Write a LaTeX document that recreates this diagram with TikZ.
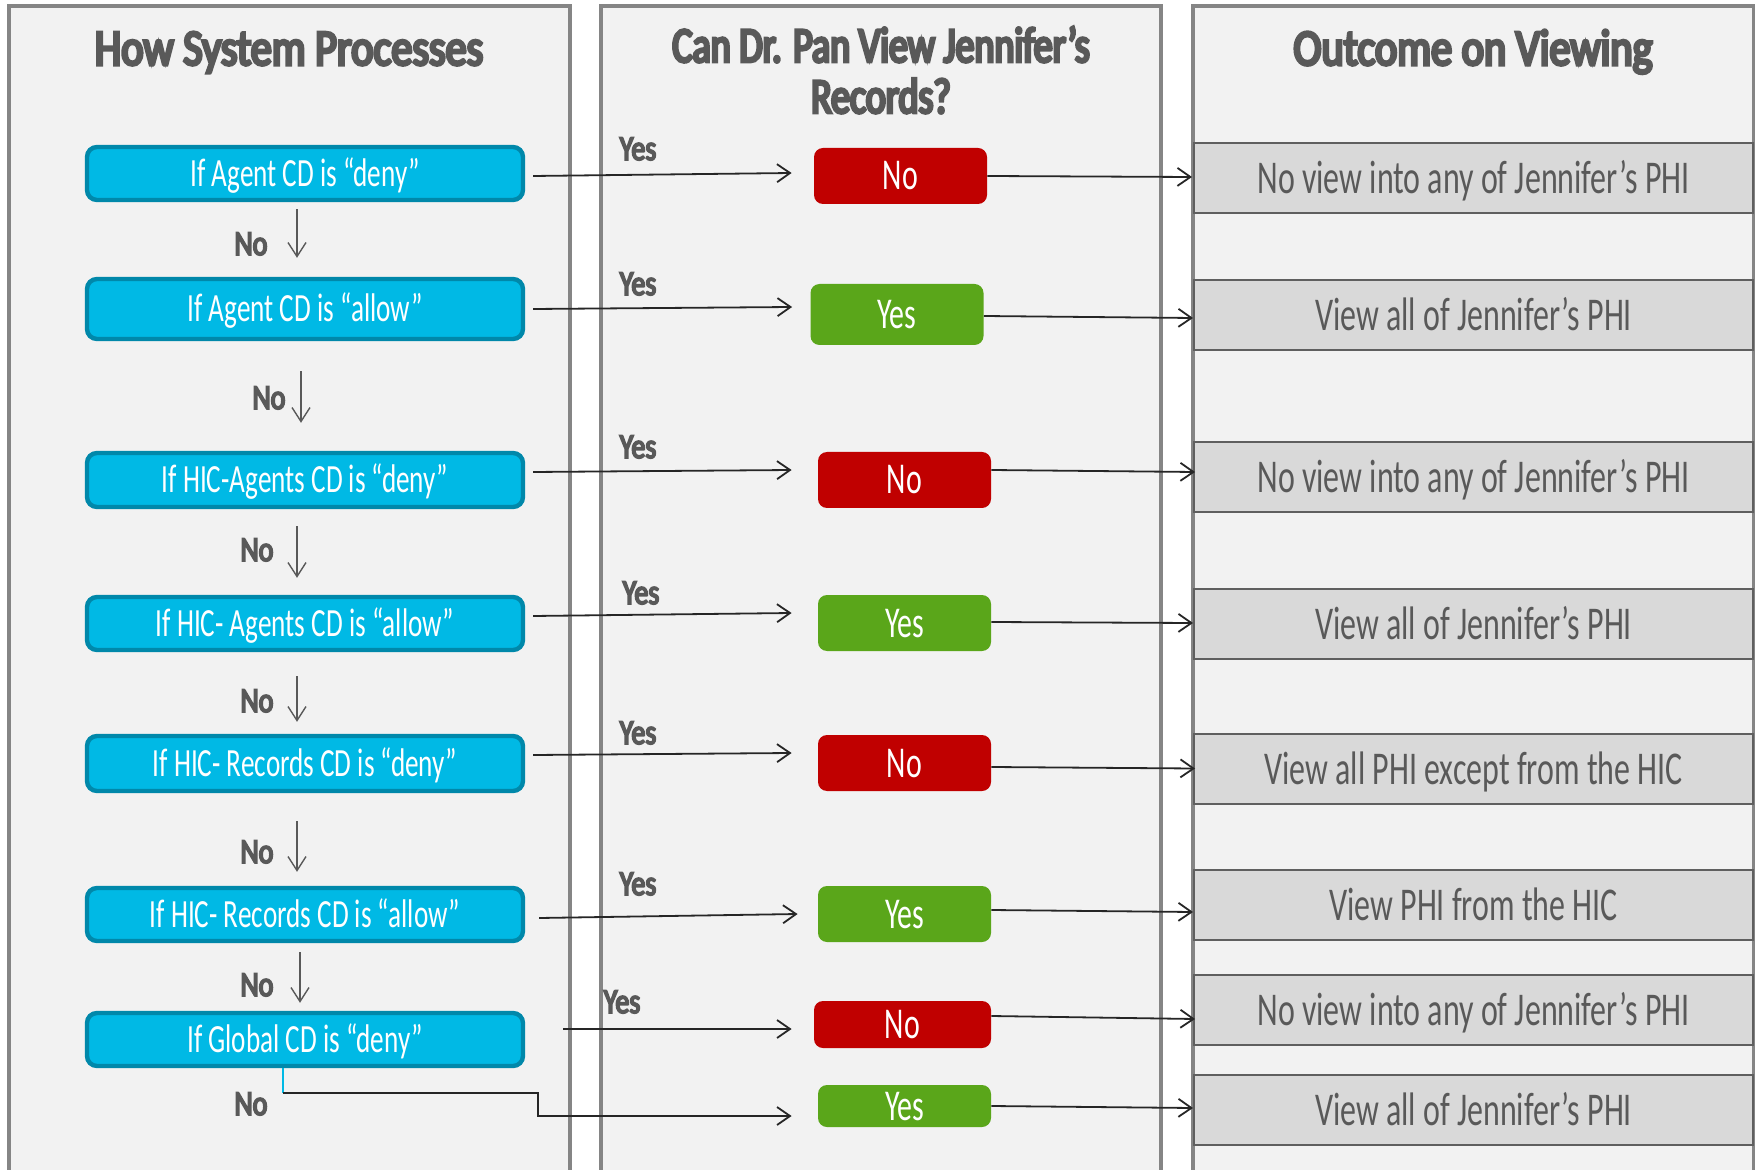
\documentclass[tikz,border=0pt]{standalone}
\usepackage{fontspec}
\setmainfont{Carlito}[FakeStretch=0.68]
\newfontfamily\headfont{Carlito}[FakeStretch=0.83, FakeBold=6]
\newfontfamily\headfontb{Carlito}[FakeStretch=0.76, FakeBold=6]
\newfontfamily\labfont{Carlito}[FakeStretch=0.8, FakeBold=5]
\usetikzlibrary{arrows.meta,calc}
\definecolor{panelfill}{HTML}{F2F2F2}
\definecolor{panelline}{HTML}{858585}
\definecolor{bluefill}{HTML}{00B9E5}
\definecolor{blueline}{HTML}{0088AA}
\definecolor{redfill}{HTML}{C00000}
\definecolor{greenfill}{HTML}{5AA61A}
\definecolor{outfill}{HTML}{D9D9D9}
\definecolor{outline}{HTML}{5F5F5F}
\definecolor{txtgray}{HTML}{595959}
\definecolor{arrowcol}{HTML}{262626}
\tikzset{
  panel/.style={draw=panelline, fill=panelfill, line width=1.6pt},
  head/.style={anchor=base, text=txtgray, font=\headfont\fontsize{25.5}{26}\selectfont, align=center, inner sep=0pt},
  cond/.style={draw=blueline, fill=bluefill, line width=2.2pt, rounded corners=5pt,
    minimum width=218pt, minimum height=#1, text=white, inner sep=0pt,
    text height=13pt, text depth=0pt, font=\fontsize{20}{20}\selectfont},
  cond/.default=26.5pt,
  answer/.style={fill=#1, rounded corners=4.5pt, minimum width=86.5pt, text=white,
    inner sep=0pt, text height=14pt, text depth=0pt, font=\fontsize{22}{22}\selectfont},
  outcome/.style={draw=outline, fill=outfill, line width=1pt, minimum width=279.5pt,
    minimum height=35pt, text=txtgray, inner sep=0pt, text height=15.5pt, text depth=0pt,
    font=\fontsize{23.5}{24}\selectfont},
  lab/.style={anchor=base, text=txtgray, font=\labfont\fontsize{17.5}{18}\selectfont, inner sep=0pt},
  yesarrow/.style={draw=arrowcol, line width=0.9pt, -{Straight Barb[length=6.5pt,width=9pt,line width=0.9pt]}},
  downarrow/.style={draw=txtgray, line width=0.7pt, -{Straight Barb[length=7pt,width=9pt,line width=0.7pt]}},
}
\begin{document}
\begin{tikzpicture}[x=0.5pt,y=-0.5pt]
\useasboundingbox (0,0) rectangle (1755,1170);
\clip (0,0) rectangle (1755,1170);
\fill[white] (0,0) rectangle (1755,1170);
% panels
\draw[panel] (9,6) rectangle (570,1220);
\draw[panel] (601,6) rectangle (1161,1220);
\draw[panel] (1193,6) rectangle (1754,1220);
% headings
\node[head] (h1) at (289,65) {How System Processes};
\node[head, font=\headfontb\fontsize{25}{26}\selectfont] (h2a) at (881,62) {Can Dr. Pan View Jennifer’s};
\node[head, font=\headfontb\fontsize{25}{26}\selectfont] (h2b) at (881,113) {Records?};
\node[head] (h3) at (1473,65) {Outcome on Viewing};
% condition boxes
\node[cond] (b1) at (305,173.5) {If Agent CD is “deny”};
\node[cond=30pt] (b2) at (305,309) {If Agent CD is “allow”};
\node[cond=27pt] (b3) at (305,480) {If HIC-Agents CD is “deny”};
\node[cond] (b4) at (305,623.5) {If HIC- Agents CD is “allow”};
\node[cond=27.5pt] (b5) at (305,763.5) {If HIC- Records CD is “deny”};
\node[cond] (b6) at (305,914.5) {If HIC- Records CD is “allow”};
\node[cond] (b7) at (305,1039.5) {If Global CD is “deny”};
% answers
\node[answer=redfill, minimum height=28pt] (m1) at (900.5,176) {No};
\node[answer=greenfill, minimum height=30.5pt] (m2) at (897,314.5) {Yes};
\node[answer=redfill, minimum height=28pt] (m3) at (904.5,480) {No};
\node[answer=greenfill, minimum height=28pt] (m4) at (904.5,623) {Yes};
\node[answer=redfill, minimum height=28pt] (m5) at (904.5,763) {No};
\node[answer=greenfill, minimum height=28pt] (m6) at (904.5,914) {Yes};
\node[answer=redfill, minimum height=23.5pt, minimum width=88.5pt] (m7) at (902.5,1024.5) {No};
\node[answer=greenfill, minimum height=21pt] (m8) at (904.5,1106) {Yes};
% outcomes
\node[outcome] (o1) at (1473.5,178) {No view into any of Jennifer’s PHI};
\node[outcome] (o2) at (1473.5,315) {View all of Jennifer’s PHI};
\node[outcome] (o3) at (1473.5,477.5) {No view into any of Jennifer’s PHI};
\node[outcome] (o4) at (1473.5,624) {View all of Jennifer’s PHI};
\node[outcome] (o5) at (1473.5,768.5) {View all PHI except from the HIC};
\node[outcome] (o6) at (1473.5,905) {View PHI from the HIC};
\node[outcome] (o7) at (1473.5,1010) {No view into any of Jennifer’s PHI};
\node[outcome] (o8) at (1473.5,1109.5) {View all of Jennifer’s PHI};
% down arrows (No)
\draw[downarrow] ($(b1.south)+(-8,7)$) -- ($(b2.north)+(-8,-19)$);
\draw[downarrow] ($(b2.south)+(-4,30)$) -- ($(b3.north)+(-4,-28)$);
\draw[downarrow] ($(b3.south)+(-8,17)$) -- ($(b4.north)+(-8,-17)$);
\draw[downarrow] ($(b4.south)+(-8,24)$) -- ($(b5.north)+(-8,-12)$);
\draw[downarrow] ($(b5.south)+(-8,28)$) -- ($(b6.north)+(-8,-14)$);
\draw[downarrow] ($(b6.south)+(-5,9)$) -- ($(b7.north)+(-5,-8)$);
\node[lab] (n1) at (251,255) {No};
\node[lab] (n2) at (269,409) {No};
\node[lab] (n3) at (257,561) {No};
\node[lab] (n4) at (257,712) {No};
\node[lab] (n5) at (257,863) {No};
\node[lab] (n6) at (257,996) {No};
\node[lab] (n7) at (251,1115) {No};
% yes arrows
\draw[yesarrow] ($(b1.east)+(8,2.5)$) -- ($(m1.west)+(-22,-3)$);
\draw[yesarrow] ($(b2.east)+(8,0)$) -- ($(m2.west)+(-18,-7.5)$);
\draw[yesarrow] ($(b3.east)+(8,-8)$) -- ($(m3.west)+(-26,-10)$);
\draw[yesarrow] ($(b4.east)+(8,-7.5)$) -- ($(m4.west)+(-26,-10)$);
\draw[yesarrow] ($(b5.east)+(8,-8.5)$) -- ($(m5.west)+(-26,-10)$);
\draw[yesarrow] ($(b6.east)+(14,3.5)$) -- ($(m6.west)+(-20,0)$);
\draw[yesarrow] ($(b7.east)+(38,-10.5)$) -- ($(m7.west)+(-22,4.5)$);
\node[lab] (y1) at (638,160) {Yes};
\node[lab] (y2) at (638,295) {Yes};
\node[lab] (y3) at (638,458) {Yes};
\node[lab] (y4) at (641,604) {Yes};
\node[lab] (y5) at (638,744) {Yes};
\node[lab] (y6) at (638,895) {Yes};
\node[lab] (y7) at (622,1013) {Yes};
% final No path
\coordinate (c1) at (283,1093);
\coordinate (c2) at (538,1093);
\coordinate (c3) at (538,1116);
\draw[draw=bluefill, line width=0.8pt] (b7.south -| c1) -- (c1);
\draw[yesarrow] (c1) -- (c2) -- (c3) -- ($(m8.west)+(-26,10)$);
% outcome arrows
\draw[yesarrow] (m1.east) -- ($(o1.west)+(-1,-1)$);
\draw[yesarrow] ($(m2.east)+(0,1.5)$) -- ($(o2.west)+(0,3)$);
\draw[yesarrow] ($(m3.east)+(0,-10)$) -- ($(o3.west)+(2,-5.5)$);
\draw[yesarrow] ($(m4.east)+(0,-1)$) -- ($(o4.west)+(0,-1)$);
\draw[yesarrow] ($(m5.east)+(0,4)$) -- ($(o5.west)+(2,0)$);
\draw[yesarrow] ($(m6.east)+(0,-4)$) -- ($(o6.west)+(0,7)$);
\draw[yesarrow] ($(m7.east)+(0,-8.5)$) -- ($(o7.west)+(2,9)$);
\draw[yesarrow] (m8.east) -- ($(o8.west)+(0,-1.5)$);
\end{tikzpicture}
\end{document}
